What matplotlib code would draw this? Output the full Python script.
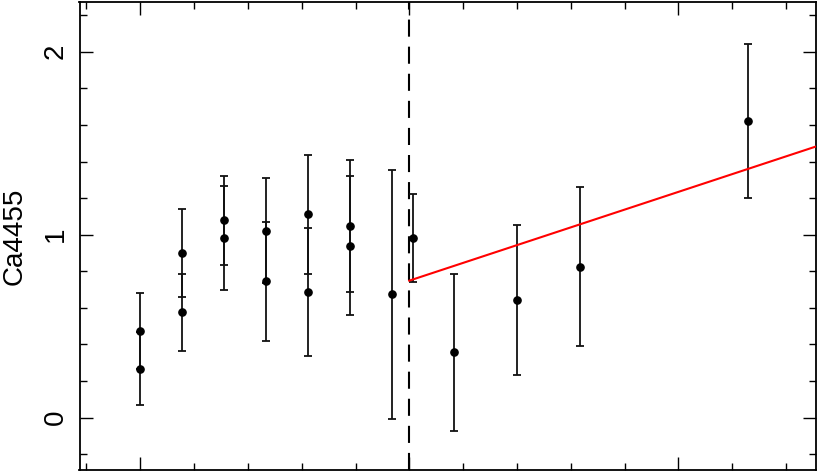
import matplotlib
matplotlib.use("Agg")
import matplotlib.pyplot as plt
from matplotlib.ticker import MultipleLocator
import numpy as np

# radial position (arbitrary units, major tick = 1), index value and error
x = [0.0, 0.0, 0.155, 0.155, 0.312, 0.312, 0.467, 0.467, 0.623, 0.623,
     0.778, 0.778, 0.934, 1.012, 1.168, 1.401, 1.635, 2.259]
ca4455 = [0.474, 0.268, 0.898, 0.576, 1.079, 0.984, 1.022, 0.745, 1.111, 0.687,
          1.049, 0.940, 0.674, 0.982, 0.357, 0.643, 0.825, 1.621]
err = [0.21, 0.20, 0.24, 0.21, 0.243, 0.285, 0.286, 0.326, 0.326, 0.348,
       0.36, 0.38, 0.68, 0.238, 0.43, 0.41, 0.435, 0.42]

# break position and linear fit beyond it
x_break = 1.0
fit_start = 0.749
fit_slope = 0.485

plt.rcParams['font.family'] = ['Liberation Sans', 'DejaVu Sans']

fig = plt.figure(figsize=(8.17, 4.72), dpi=100)
ax = fig.add_axes([79.5 / 817, 2 / 472, 736 / 817, 468 / 472])

ax.errorbar(x, ca4455, yerr=err, fmt='o', color='black', ms=5.2,
            ecolor='#111111', elinewidth=1.3, capsize=3, capthick=1.3, zorder=3)

ax.set_xlim(-0.226, 2.51)
ax.set_ylim(-0.286, 2.272)

# dashed break marker
ax.axvline(x_break, color='black', lw=1.5, dashes=(8.2, 4.8), zorder=2)

xmax = ax.get_xlim()[1]
fx = np.array([x_break, xmax])
ax.plot(fx, fit_start + fit_slope * (fx - x_break), color='#ff0000', lw=1.5,
        zorder=4)

ax.xaxis.set_major_locator(MultipleLocator(1))
ax.xaxis.set_minor_locator(MultipleLocator(0.2))
ax.yaxis.set_major_locator(MultipleLocator(1))
ax.yaxis.set_minor_locator(MultipleLocator(0.2))

ax.tick_params(which='both', direction='in', top=True, right=True, width=1.0)
ax.tick_params(which='major', length=9.5)
ax.tick_params(which='minor', length=5)
ax.tick_params(axis='x', labelbottom=False)
ax.tick_params(axis='y', labelsize=20, pad=8)
for lab in ax.get_yticklabels():
    lab.set_rotation(90)
    lab.set_va('center')

for s in ax.spines.values():
    s.set_linewidth(1.3)

ax.set_ylabel('Ca4455', fontsize=20)
ax.yaxis.set_label_coords(-0.070, 0.5)

fig.savefig('out.png', dpi=100)
